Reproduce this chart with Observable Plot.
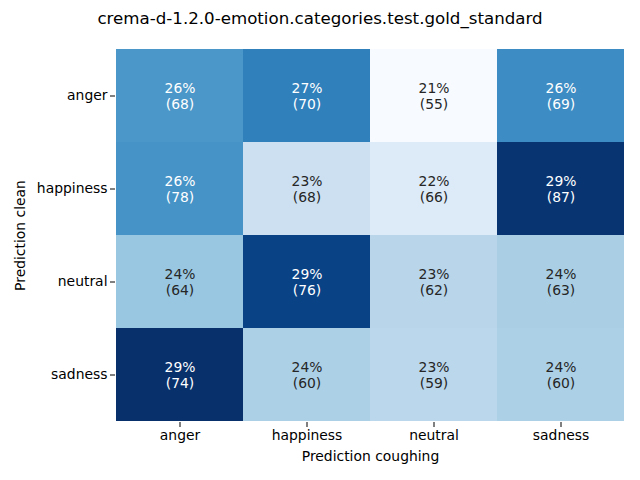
<!DOCTYPE html>
<html>
<head>
<meta charset="utf-8">
<script src="https://cdn.jsdelivr.net/npm/d3@7"></script>
<script src="https://cdn.jsdelivr.net/npm/@observablehq/plot@0.6"></script>
<style>
  body { margin: 0; background: #fff; }
  #title { width: 640px; height: 36px; font-family: "DejaVu Sans", sans-serif; font-size: 16.67px; text-align: center; line-height: 37px; color: #000; }
</style>
</head>
<body>
<div id="title">crema-d-1.2.0-emotion.categories.test.gold_standard</div>
<div id="chart"></div>
<script>
const title = "crema-d-1.2.0-emotion.categories.test.gold_standard";
const rowLabels = ["anger", "happiness", "neutral", "sadness"];   // Prediction clean
const colLabels = ["anger", "happiness", "neutral", "sadness"];   // Prediction coughing
const counts = [
  [68, 70, 55, 69],
  [78, 68, 66, 87],
  [64, 76, 62, 63],
  [74, 60, 59, 60]
];
const xLabel = "Prediction coughing";
const yLabel = "Prediction clean";

const data = [];
rowLabels.forEach((r, i) => {
  const total = d3.sum(counts[i]);
  colLabels.forEach((c, j) => {
    data.push({row: r, col: c, count: counts[i][j], pct: counts[i][j] / total * 100});
  });
});
const domain = d3.extent(data, d => d.pct);
const colorOf = v => d3.interpolateBlues((v - domain[0]) / (domain[1] - domain[0]));
function lum(c) {
  const rgb = d3.rgb(c);
  const f = x => { x /= 255; return x <= 0.03928 ? x / 12.92 : Math.pow((x + 0.055) / 1.055, 2.4); };
  return 0.2126 * f(rgb.r) + 0.7152 * f(rgb.g) + 0.0722 * f(rgb.b);
}
const textColor = d => lum(colorOf(d.pct)) > 0.408 ? "#262626" : "#ffffff";

const plot = Plot.plot({
  width: 640,
  height: 444,
  marginTop: 12,
  marginBottom: 58,
  marginLeft: 115,
  marginRight: 15,
  style: {fontFamily: "DejaVu Sans, sans-serif", fontSize: "13.9px", color: "#000", background: "#fff"},
  x: {domain: colLabels, padding: 0, label: xLabel, labelAnchor: "center", labelOffset: 38, tickSize: 5, tickPadding: 3},
  y: {domain: rowLabels, padding: 0, label: yLabel, labelAnchor: "center", labelOffset: 100, tickSize: 5, tickPadding: 3},
  color: {type: "linear", scheme: "blues", domain: domain},
  marks: [
    Plot.cell(data, {x: "col", y: "row", fill: "pct", inset: 0}),
    Plot.text(data, {x: "col", y: "row", text: d => `${Math.round(d.pct)}%\n(${d.count})`, fill: textColor, fontSize: 13.9, lineHeight: 1.15})
  ]
});
document.getElementById("chart").appendChild(plot);
</script>
</body>
</html>
